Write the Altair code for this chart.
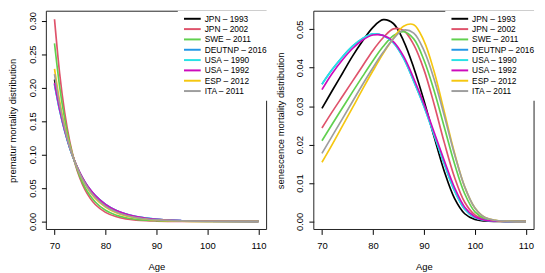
import altair as alt
import pandas as pd

series = ["JPN – 1993", "JPN – 2002", "SWE – 2011", "DEUTNP – 2016",
          "USA – 1990", "USA – 1992", "ESP – 2012", "ITA – 2011"]
colors = ["#000000", "#DF536B", "#61D04F", "#2297E6",
          "#28E2E5", "#CD0BBC", "#F5C710", "#9E9E9E"]

# premature component
ages_prem = [70, 71, 72, 73, 74, 75, 76, 77, 78, 80, 82, 84, 86, 88, 90, 95, 100, 110]
prem_jpn1993 = [.212, .1706, .1374, .1106, .0890, .0716, .0577, .0464, .0374, .0242, .0157, .0102, .0066, .0043, .0028, .0009, .0003, .0000]
prem_jpn2002 = [.302, .2215, .1624, .1191, .0874, .0641, .0470, .0345, .0253, .0136, .0073, .0039, .0021, .0011, .0006, .0001, .0000, .0000]
prem_swe2011 = [.266, .2017, .1529, .1159, .0879, .0666, .0505, .0383, .0290, .0167, .0096, .0055, .0032, .0018, .0010, .0003, .0001, .0000]
prem_deu2016 = [.205, .1663, .1349, .1094, .0888, .0720, .0584, .0474, .0385, .0255, .0168, .0111, .0074, .0049, .0032, .0011, .0004, .0000]
prem_usa1990 = [.205, .1663, .1349, .1094, .0888, .0720, .0584, .0474, .0385, .0255, .0168, .0111, .0074, .0049, .0032, .0011, .0004, .0000]
prem_usa1992 = [.207, .1678, .1360, .1102, .0894, .0724, .0587, .0476, .0386, .0254, .0167, .0110, .0072, .0047, .0031, .0011, .0004, .0000]
prem_esp2012 = [.228, .1801, .1422, .1123, .0887, .0701, .0553, .0437, .0345, .0215, .0134, .0084, .0052, .0033, .0020, .0006, .0002, .0000]
prem_ita2011 = [.220, .1753, .1397, .1113, .0887, .0707, .0563, .0449, .0358, .0227, .0144, .0092, .0058, .0037, .0024, .0008, .0002, .0000]

# senescence component
ages_sen = [70, 72, 74, 76, 78, 80, 82, 84, 86, 88, 90, 92, 94, 96, 98, 100, 102, 104, 106, 110]
sen_jpn1993 = [.0294, .0340, .0385, .0430, .0470, .0505, .0525, .0515, .0470, .0400, .0315, .0220, .0130, .0060, .0020, .0005, .0001, .0000, .0000, .0000]
sen_jpn2002 = [.0243, .0285, .0325, .0365, .0405, .0445, .0478, .0501, .0497, .0460, .0395, .0305, .0205, .0115, .0050, .0017, .0005, .0001, .0000, .0000]
sen_swe2011 = [.0210, .0253, .0295, .0337, .0378, .0418, .0455, .0483, .0494, .0475, .0420, .0340, .0245, .0150, .0072, .0025, .0007, .0002, .0000, .0000]
sen_deu2016 = [.0357, .0395, .0428, .0456, .0476, .0488, .0484, .0465, .0425, .0365, .0300, .0225, .0150, .0080, .0032, .0010, .0003, .0001, .0000, .0000]
sen_usa1990 = [.0357, .0395, .0428, .0456, .0476, .0488, .0484, .0465, .0425, .0365, .0300, .0225, .0150, .0080, .0032, .0010, .0003, .0001, .0000, .0000]
sen_usa1992 = [.0343, .0385, .0420, .0450, .0472, .0485, .0484, .0468, .0430, .0372, .0306, .0232, .0158, .0088, .0037, .0012, .0003, .0001, .0000, .0000]
sen_esp2012 = [.0154, .0200, .0248, .0296, .0345, .0392, .0437, .0476, .0508, .0512, .0470, .0390, .0285, .0178, .0090, .0035, .0010, .0003, .0001, .0000]
sen_ita2011 = [.0177, .0222, .0267, .0312, .0357, .0400, .0440, .0475, .0498, .0490, .0445, .0370, .0275, .0175, .0090, .0035, .0010, .0003, .0001, .0000]

prem_all = [prem_jpn1993, prem_jpn2002, prem_swe2011, prem_deu2016,
            prem_usa1990, prem_usa1992, prem_esp2012, prem_ita2011]
sen_all = [sen_jpn1993, sen_jpn2002, sen_swe2011, sen_deu2016,
           sen_usa1990, sen_usa1992, sen_esp2012, sen_ita2011]

x_ticks = [70, 80, 90, 100, 110]
prem_ticks = [0.0, 0.05, 0.10, 0.15, 0.20, 0.25, 0.30]
sen_ticks = [0.0, 0.01, 0.02, 0.03, 0.04, 0.05]

W, H = 224, 222
FONT = "Liberation Sans"
legend_df = pd.DataFrame({"name": series, "col": colors, "idx": list(range(len(series)))})


def panel(ages, vals, ydomain, yticks, ytitle, interp):
    xenc = alt.X("age:Q", scale=alt.Scale(domain=[68.4, 111.6], nice=False, zero=False),
                 axis=alt.Axis(values=x_ticks, title="Age", format="d"))
    yenc = alt.Y("value:Q", scale=alt.Scale(domain=ydomain, nice=False, zero=False),
                 axis=alt.Axis(values=yticks, format=".2f", title=ytitle,
                               labelAngle=-90, labelAlign="center", labelBaseline="bottom"))
    box = alt.Chart(pd.DataFrame({"a": [0]})).mark_rect(
        filled=False, stroke="#222222", strokeWidth=1
    ).encode(x=alt.value(0), x2=alt.value(W), y=alt.value(0), y2=alt.value(H))
    layers = [box]
    for name, col, v in zip(series, colors, vals):
        df = pd.DataFrame({"age": ages, "value": v})
        layers.append(
            alt.Chart(df).mark_line(color=col, strokeWidth=1.7, interpolate=interp)
            .encode(x=xenc, y=yenc)
        )
    lrect = alt.Chart(pd.DataFrame({"a": [0]})).mark_rect(fill="white").encode(
        x=alt.value(133.7), x2=alt.value(W + 3), y=alt.value(-0.5), y2=alt.value(91))
    base = alt.Chart(legend_df).transform_calculate(py="7.7 + 10.5 * datum.idx")
    lrule = base.mark_rule(strokeWidth=2).encode(
        x=alt.value(140), x2=alt.value(157),
        y=alt.Y("py:Q", scale=None, axis=None),
        color=alt.Color("col:N", scale=None, legend=None))
    ltext = base.mark_text(align="left", baseline="middle", fontSize=8.5, font=FONT,
                           color="black").encode(
        x=alt.value(161), y=alt.Y("py:Q", scale=None, axis=None), text="name:N")
    layers += [lrect, lrule, ltext]
    return alt.layer(*layers).properties(width=W, height=H)


left = panel(ages_prem, prem_all, [-0.012, 0.314], prem_ticks,
             "prematur mortality distribution", "monotone")
right = panel(ages_sen, sen_all, [-0.0021, 0.0547], sen_ticks,
              "senescence mortality distribution", "catmull-rom")

chart = alt.hconcat(left, right, spacing=48, bounds="flush").properties(
    padding={"left": 0, "top": 0, "right": 0, "bottom": 0}
).configure_view(strokeWidth=0).configure_axis(
    grid=False, domain=False, tickSize=5, tickColor="black", tickWidth=1,
    labelFont=FONT, labelFontSize=9.6, labelColor="black",
    titleFont=FONT, titleFontSize=9.6, titleFontWeight="normal", titleColor="black",
).configure_axisY(labelPadding=4.5, titlePadding=9.5).configure_axisX(
    labelPadding=6, titlePadding=12
)

chart.save("out.html", embed_options={"renderer": "svg", "actions": False})
